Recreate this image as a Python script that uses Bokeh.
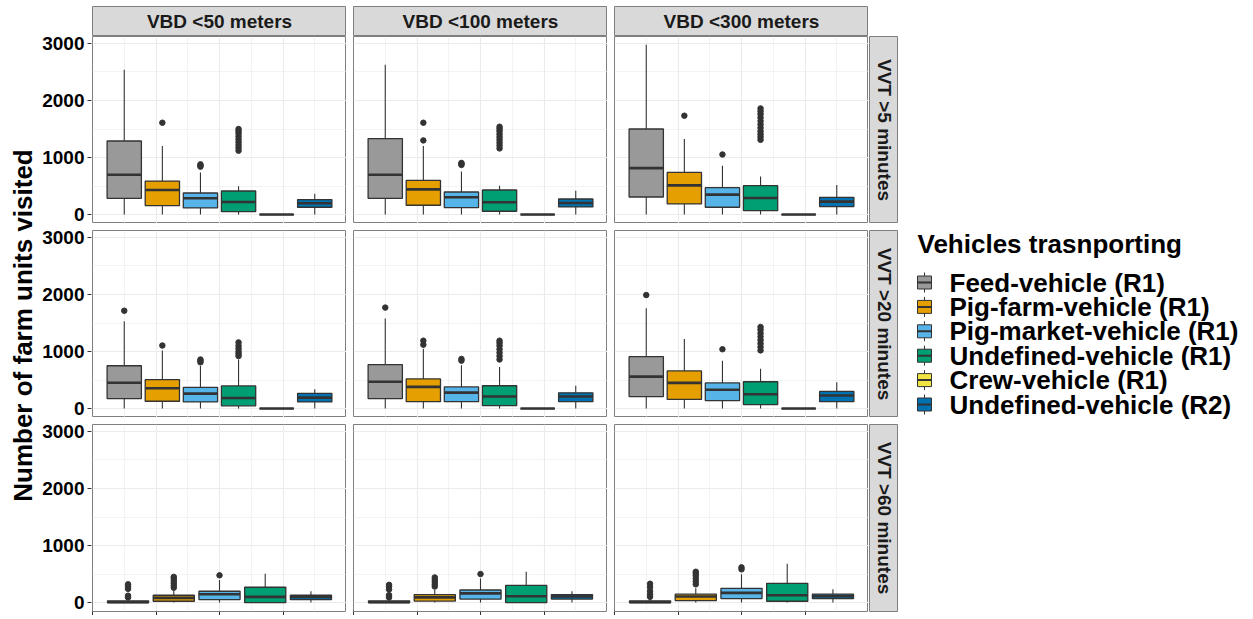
import math
from bokeh.plotting import figure
from bokeh.models import Range1d, LinearAxis, FixedTicker, Grid, Label, ColumnDataSource
from bokeh.layouts import gridplot, row
from bokeh.core.properties import value
from bokeh.embed import file_html
from bokeh.resources import INLINE

# ---------------- data ----------------
VBD_LABELS = ["VBD <50 meters", "VBD <100 meters", "VBD <300 meters"]
VVT_LABELS = ["VVT >5 minutes", "VVT >20 minutes", "VVT >60 minutes"]
VEHICLES = ["Feed-vehicle (R1)", "Pig-farm-vehicle (R1)", "Pig-market-vehicle (R1)",
            "Undefined-vehicle (R1)", "Crew-vehicle (R1)", "Undefined-vehicle (R2)"]
COLORS = ["#999999", "#E69F00", "#56B4E9", "#009E73", "#F0E442", "#0072B2"]
LEGEND_TITLE = "Vehicles trasnporting"
Y_TITLE = "Number of farm units visited"
Y_TICKS = [0, 1000, 2000, 3000]
Y_MINOR = [500, 1500, 2500]
X_TICKS = [-0.5, -0.25, 0, 0.25, 0.5]
X_MINOR = [-0.375, -0.125, 0.125, 0.375]

# indexed [VVT row][VBD column][vehicle]; None = vehicle absent in that panel
WHISKER_LOW = [
    [[0, 0, 0, 0, 0, 0], [0, 0, 0, 0, 0, 0], [0, 0, 0, 0, 0, 0]],
    [[0, 0, 0, 0, 0, 0], [0, 0, 0, 0, 0, 0], [0, 0, 0, 0, 0, 0]],
    [[0, 0, 0, 0, None, 0], [0, 0, 0, 0, None, 0], [0, 0, 0, 0, None, 0]],
]
Q1 = [
    [[285, 157, 116, 52, 0, 128], [285, 163, 122, 58, 0, 134], [308, 186, 128, 70, 0, 140]],
    [[174, 128, 116, 47, 0, 116], [174, 120, 120, 50, 0, 120], [210, 160, 140, 70, 0, 120]],
    [[0, 23, 52, 0, None, 52], [0, 25, 60, 0, None, 60], [0, 35, 70, 23, None, 70]],
]
MEDIAN = [
    [[697, 430, 285, 221, 0, 198], [697, 442, 302, 215, 0, 203], [814, 512, 349, 291, 0, 227]],
    [[453, 355, 262, 186, 0, 192], [470, 380, 280, 210, 0, 210], [560, 450, 330, 250, 0, 230]],
    [[5, 82, 146, 99, None, 99], [5, 90, 160, 110, None, 105], [5, 105, 169, 128, None, 110]],
]
Q3 = [
    [[1290, 587, 378, 413, 0, 262], [1332, 599, 395, 430, 0, 273], [1500, 738, 471, 506, 0, 302]],
    [[750, 506, 372, 396, 0, 267], [770, 520, 380, 400, 0, 275], [910, 660, 450, 470, 0, 300]],
    [[30, 128, 198, 268, None, 128], [30, 140, 220, 300, None, 140], [30, 146, 250, 337, None, 146]],
]
WHISKER_HIGH = [
    [[2541, 1203, 738, 494, 0, 366], [2628, 1200, 756, 506, 0, 419], [2977, 1326, 855, 669, 0, 518]],
    [[1529, 1017, 744, 860, 0, 337], [1580, 1050, 760, 730, 0, 400], [1760, 1220, 840, 700, 0, 460]],
    [[70, 204, 395, 506, None, 198], [70, 220, 420, 540, None, 200], [70, 250, 494, 680, None, 232]],
]
OUTLIERS = [
    [
        [[], [1610], [840, 860, 880], [1120, 1170, 1220, 1270, 1320, 1370, 1420, 1460, 1500], [], []],
        [[], [1300, 1610], [870, 890, 905], [1160, 1210, 1260, 1310, 1360, 1410, 1460, 1500, 1540], [], []],
        [[], [1733], [1053], [1310, 1360, 1410, 1460, 1520, 1580, 1640, 1700, 1760, 1810, 1860], [], []],
    ],
    [
        [[1715], [1105], [810, 840, 860], [920, 960, 1000, 1050, 1100, 1160], [], []],
        [[1770], [1120, 1190], [840, 870], [860, 920, 980, 1040, 1100, 1150, 1190], [], []],
        [[1990], [], [1040], [1020, 1080, 1140, 1200, 1260, 1320, 1380, 1430], [], []],
    ],
    [
        [[90, 120, 240, 280, 320], [260, 300, 340, 380, 420, 450], [477], [], [], []],
        [[90, 130, 230, 280, 310], [280, 320, 360, 400, 440], [500], [], [], []],
        [[100, 140, 200, 270, 330], [320, 370, 420, 470, 510, 540], [582, 617], [], [], []],
    ],
]

# ---------------- style / layout ----------------
FONT = "Liberation Sans"
PANEL_W, PANEL_H = 254, 187
TOP_PAD, STRIP_H, RSTRIP_W = 6, 30, 29
GAP = 7
YLAB_W = 37
AXIS_W = 55
AXIS_H = 4
LEG_W = 340
TOTAL_H = TOP_PAD + STRIP_H + 3 * PANEL_H + 2 * GAP + AXIS_H
BORDER = "#7f7f7f"
DARK = "#333333"
GRIDC = "#ebebeb"
Y_RANGE = (-157, 3122)
X_RANGE = (-0.5, 0.5)


def base_fig(fw, fh, xr, yr, left=0, top=0, right=0, bottom=0):
    p = figure(frame_width=fw, frame_height=fh, x_range=Range1d(*xr), y_range=Range1d(*yr),
               x_axis_location=None, y_axis_location=None, toolbar_location=None,
               output_backend="svg", min_border=0, min_border_left=left, min_border_top=top,
               min_border_right=right, min_border_bottom=bottom)
    p.grid.visible = False
    p.outline_line_color = None
    p.border_fill_color = "white"
    p.background_fill_color = "white"
    return p


def strip_top(c):
    p = base_fig(PANEL_W, STRIP_H, (0, 1), (0, 1), left=(0 if c == 0 else GAP), top=TOP_PAD)
    p.background_fill_color = "#d9d9d9"
    p.outline_line_color = BORDER
    p.add_layout(Label(x=0.5, y=0.5, text=VBD_LABELS[c], text_align="center", text_baseline="middle",
                       text_font=FONT, text_font_style="bold", text_font_size="19px", text_color="#1a1a1a"))
    return p


def strip_right(r):
    p = base_fig(RSTRIP_W, PANEL_H, (0, 1), (0, 1), left=1, top=(0 if r == 0 else GAP),
                 bottom=(AXIS_H if r == 2 else 0))
    p.background_fill_color = "#d9d9d9"
    p.outline_line_color = BORDER
    p.add_layout(Label(x=0.5, y=0.5, text=VVT_LABELS[r], text_align="center", text_baseline="middle",
                       angle=-math.pi / 2, text_font=FONT, text_font_style="bold", text_font_size="19px",
                       text_color="#1a1a1a"))
    return p


def panel(r, c):
    p = base_fig(PANEL_W, PANEL_H, X_RANGE, Y_RANGE, left=(0 if c == 0 else GAP),
                 top=(0 if r == 0 else GAP), bottom=(AXIS_H if r == 2 else 0))
    p.outline_line_color = BORDER
    p.outline_line_width = 1
    p.add_layout(Grid(dimension=0, ticker=FixedTicker(ticks=X_TICKS, minor_ticks=X_MINOR),
                      grid_line_color=GRIDC, grid_line_width=1.1,
                      minor_grid_line_color=GRIDC, minor_grid_line_width=0.6))
    p.add_layout(Grid(dimension=1, ticker=FixedTicker(ticks=Y_TICKS, minor_ticks=Y_MINOR),
                      grid_line_color=GRIDC, grid_line_width=1.1,
                      minor_grid_line_color=GRIDC, minor_grid_line_width=0.6))
    if r == 2:
        bx = LinearAxis(ticker=FixedTicker(ticks=X_TICKS, minor_ticks=[]),
                        major_label_text_font_size="1px", major_label_text_color=None,
                        major_label_standoff=0,
                        major_tick_in=0, major_tick_out=4, major_tick_line_color=DARK,
                        minor_tick_line_color=None, axis_line_color=None)
        p.add_layout(bx, "below")

    present = [k for k in range(len(VEHICLES)) if Q1[r][c][k] is not None]
    n = len(present)
    slot = 0.9 / n
    half = slot * 0.9 / 2
    xs = [-0.45 + slot * (j + 0.5) for j in range(n)]
    src = ColumnDataSource(dict(
        x=xs,
        left=[x - half for x in xs],
        right=[x + half for x in xs],
        lo=[WHISKER_LOW[r][c][k] for k in present],
        q1=[Q1[r][c][k] for k in present],
        med=[MEDIAN[r][c][k] for k in present],
        q3=[Q3[r][c][k] for k in present],
        hi=[WHISKER_HIGH[r][c][k] for k in present],
        color=[COLORS[k] for k in present],
    ))
    p.segment(x0="x", y0="lo", x1="x", y1="q1", source=src, line_color=DARK, line_width=1.1)
    p.segment(x0="x", y0="q3", x1="x", y1="hi", source=src, line_color=DARK, line_width=1.1)
    p.quad(left="left", right="right", bottom="q1", top="q3", source=src,
           fill_color="color", line_color=DARK, line_width=1.3)
    p.segment(x0="left", y0="med", x1="right", y1="med", source=src, line_color=DARK, line_width=2.6)
    ox, oy = [], []
    for j, k in enumerate(present):
        for v in OUTLIERS[r][c][k]:
            ox.append(xs[j])
            oy.append(v)
    p.scatter(ox, oy, size=5.5, fill_color=DARK, line_color=DARK)
    return p


rows = [[strip_top(c) for c in range(3)] + [None]]
for r in range(3):
    rows.append([panel(r, c) for c in range(3)] + [strip_right(r)])
grid = gridplot(rows, toolbar_location=None)

# shared y tick labels for the three facet rows (one axis spanning the full height)
yax_fig = base_fig(1, TOTAL_H, (0, 1), (0, TOTAL_H), left=AXIS_W - 1)
tick_pos, overrides = [], {}
for r in range(3):
    frame_bottom = TOTAL_H - (TOP_PAD + STRIP_H + (r + 1) * PANEL_H + r * GAP)
    for v in Y_TICKS:
        pos = round(frame_bottom + (v - Y_RANGE[0]) / (Y_RANGE[1] - Y_RANGE[0]) * PANEL_H, 3)
        tick_pos.append(pos)
        overrides[pos] = str(v)
yax = LinearAxis(ticker=FixedTicker(ticks=tick_pos, minor_ticks=[]), major_label_overrides=overrides,
                 major_label_text_font=FONT, major_label_text_font_style="bold",
                 major_label_text_font_size="19px", major_label_text_color="#000000",
                 major_tick_in=0, major_tick_out=4, major_tick_line_color=DARK,
                 minor_tick_line_color=None, axis_line_color=None, major_label_standoff=3)
yax_fig.add_layout(yax, "left")

# y-axis title
ylab = base_fig(YLAB_W, TOTAL_H, (0, YLAB_W), (0, TOTAL_H))
ylab.add_layout(Label(x=22, y=TOTAL_H - 325, text=Y_TITLE, angle=math.pi / 2,
                      text_align="center", text_baseline="middle", text_font=FONT,
                      text_font_style="bold", text_font_size="26px", text_color="#000000"))

# legend
leg = base_fig(LEG_W, TOTAL_H, (0, LEG_W), (0, TOTAL_H))
TITLE_Y = TOTAL_H - 243
FIRST_Y = TOTAL_H - 282
PITCH = 24.4
KEY_X, KEY_HALF = 26, 7
ky = [FIRST_Y - i * PITCH for i in range(len(VEHICLES))]
lsrc = ColumnDataSource(dict(
    x=[KEY_X] * len(VEHICLES), y=ky,
    left=[KEY_X - KEY_HALF] * len(VEHICLES), right=[KEY_X + KEY_HALF] * len(VEHICLES),
    wlo=[v - 10 for v in ky], whi=[v + 10 for v in ky],
    blo=[v - 6.5 for v in ky], bhi=[v + 6.5 for v in ky],
    color=COLORS, label=VEHICLES, tx=[51] * len(VEHICLES),
))
leg.segment(x0="x", y0="wlo", x1="x", y1="whi", source=lsrc, line_color=DARK, line_width=1)
leg.quad(left="left", right="right", bottom="blo", top="bhi", source=lsrc,
         fill_color="color", line_color=DARK, line_width=1)
leg.segment(x0="left", y0="y", x1="right", y1="y", source=lsrc, line_color=DARK, line_width=2)
leg.text(x="tx", y="y", text="label", source=lsrc, text_font=value(FONT), text_font_style="bold",
         text_font_size="26px", text_align="left", text_baseline="middle", text_color="#000000")
leg.add_layout(Label(x=19, y=TITLE_Y, text=LEGEND_TITLE, text_align="left", text_baseline="middle",
                     text_font=FONT, text_font_style="bold", text_font_size="26px", text_color="#000000"))

layout = row(ylab, yax_fig, grid, leg)
open("out.html", "w").write(file_html(layout, INLINE))
